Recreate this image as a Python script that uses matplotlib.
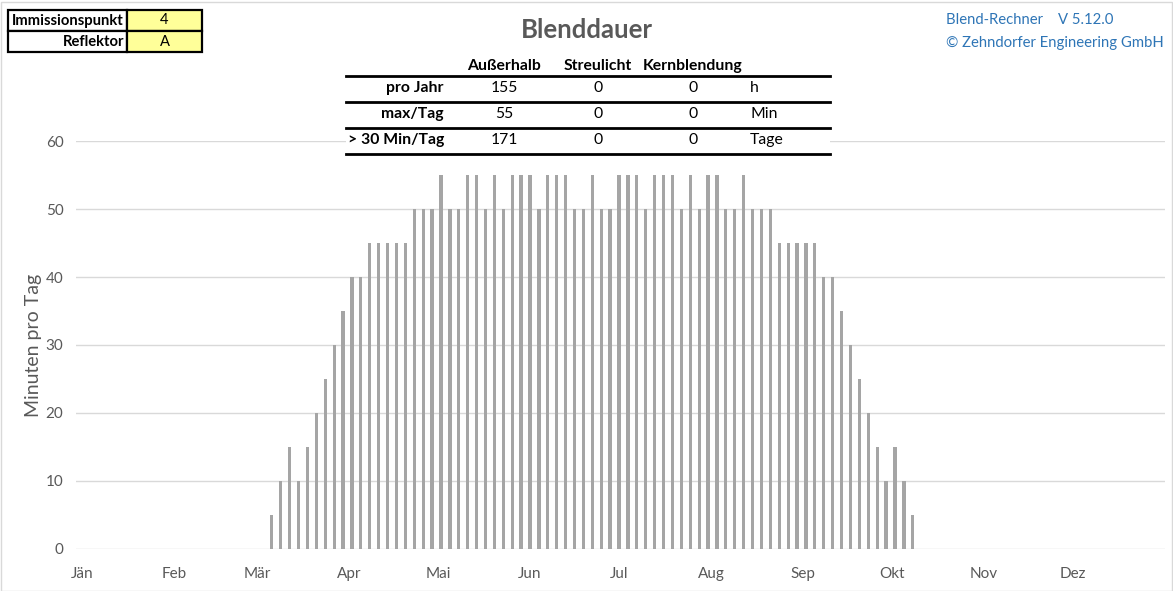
import matplotlib
matplotlib.use("Agg")
import matplotlib.pyplot as plt
from matplotlib.patches import Rectangle
from matplotlib.lines import Line2D
import pandas as pd

# ---------------- data ----------------
year = 2023
bar_dates = [
    "03-06", "03-09", "03-12", "03-15", "03-18", "03-21", "03-24", "03-27", "03-30",
    "04-02", "04-05", "04-08", "04-11", "04-14", "04-17", "04-20", "04-23", "04-26", "04-29",
    "05-02", "05-05", "05-08", "05-11", "05-14", "05-17", "05-20", "05-23", "05-26", "05-29",
    "06-01", "06-04", "06-07", "06-10", "06-13", "06-16", "06-19", "06-22", "06-25", "06-28",
    "07-01", "07-04", "07-07", "07-10", "07-13", "07-16", "07-19", "07-22", "07-25", "07-28", "07-31",
    "08-03", "08-06", "08-09", "08-12", "08-15", "08-18", "08-21", "08-24", "08-27", "08-30",
    "09-02", "09-05", "09-08", "09-11", "09-14", "09-17", "09-20", "09-23", "09-26", "09-29",
    "10-02", "10-05", "10-08",
]
minutes = [
    5, 10, 15, 10, 15, 20, 25, 30, 35, 40, 40, 45, 45, 45, 45, 45, 50, 50, 50, 55, 50, 50,
    55, 55, 50, 55, 50, 55, 55, 55, 50, 55, 55, 55, 50, 50, 55, 50, 50, 55,
    55, 55, 50, 55, 55, 55, 50, 55, 50, 55, 55, 50, 50, 55, 50, 50, 50,
    45, 45, 45, 45, 45, 40, 40, 35, 30, 25, 20, 15, 10, 15, 10, 5,
]
month_labels = ["Jän", "Feb", "Mär", "Apr", "Mai", "Jun", "Jul", "Aug", "Sep", "Okt", "Nov", "Dez"]
y_ticks = [0, 10, 20, 30, 40, 50, 60]

title = "Blenddauer"
ylabel = "Minuten pro Tag"
info_labels = ["Immissionspunkt", "Reflektor"]
info_values = ["4", "A"]
credit_lines = ["Blend-Rechner    V 5.12.0", "© Zehndorfer Engineering GmbH"]

table_cols = ["Außerhalb", "Streulicht", "Kernblendung"]
table_rows = ["pro Jahr", "max/Tag", "> 30 Min/Tag"]
table_aussen = ["155", "55", "171"]
table_streu = ["0", "0", "0"]
table_kern = ["0", "0", "0"]
table_units = ["h", "Min", "Tage"]

# ---------------- figure ----------------
W, H = 1173, 591
plt.rcParams["font.family"] = ["Lato", "DejaVu Sans"]
fig = plt.figure(figsize=(W / 100, H / 100), dpi=100)
fig.patch.set_facecolor("white")

def fx(px):
    return px / W

def fy(py):
    return 1 - py / H

GRAY_TXT = "#595959"

# chart border
fig.patches.append(Rectangle((fx(0.5), fy(590.5)), fx(1171.5), 589 / H, transform=fig.transFigure,
                             fill=False, edgecolor="#D9D9D9", linewidth=1.0))

ax_left, ax_right, ax_top, ax_bottom = 76, 1165, 141, 549
ax = fig.add_axes([fx(ax_left), fy(ax_bottom), fx(ax_right - ax_left), (ax_bottom - ax_top) / H])

dates = pd.to_datetime([f"{year}-{d}" for d in bar_dates])
ax.bar(dates, minutes, width=1.1, color="#A5A5A5", zorder=3)

ax.set_ylim(0, 60)
ax.set_yticks(y_ticks)
ax.set_xlim(pd.Timestamp(f"{year-1}-12-30"), pd.Timestamp(f"{year+1}-01-01"))
month_starts = pd.date_range(f"{year}-01-01", periods=12, freq="MS")
ax.set_xticks(month_starts)
ax.set_xticklabels(month_labels)
ax.grid(axis="y", color="#D9D9D9", linewidth=1.0, zorder=0)
ax.set_axisbelow(True)
for s in ax.spines.values():
    s.set_visible(False)
ax.tick_params(axis="both", length=0, colors=GRAY_TXT, labelsize=11)
ax.tick_params(axis="x", pad=13)
ax.tick_params(axis="y", pad=9)
ax.set_ylabel(ylabel, color=GRAY_TXT, fontsize=14)
ax.yaxis.set_label_coords((42 - ax_left) / (ax_right - ax_left), 0.5)

# title
fig.text(fx(587), fy(30), title, ha="center", va="center", fontsize=18.5, fontweight="bold", color=GRAY_TXT)

# credits
fig.text(fx(946), fy(20), credit_lines[0], ha="left", va="center", fontsize=10.7, color="#2E75B6")
fig.text(fx(946), fy(43), credit_lines[1], ha="left", va="center", fontsize=10.7, color="#2E75B6")

# info table top-left
rows_y = [(10, 31), (31, 52)]
for (y0, y1), lab, val in zip(rows_y, info_labels, info_values):
    fig.patches.append(Rectangle((fx(8), fy(y1)), fx(127 - 8), (y1 - y0) / H, transform=fig.transFigure,
                                 facecolor="white", edgecolor="black", linewidth=1.6, zorder=5))
    fig.patches.append(Rectangle((fx(127), fy(y1)), fx(202 - 127), (y1 - y0) / H, transform=fig.transFigure,
                                 facecolor="#FFFF99", edgecolor="black", linewidth=1.6, zorder=5))
    yc = (y0 + y1) / 2
    fig.text(fx(124), fy(yc), lab, ha="right", va="center", fontsize=10.6, fontweight="bold",
             color="black", zorder=6)
    fig.text(fx(164.5), fy(yc), val, ha="center", va="center", fontsize=10.6, color="black", zorder=6)

# center summary table
fig.patches.append(Rectangle((fx(346), fy(156)), fx(830 - 346), (156 - 55) / H, transform=fig.transFigure,
                             facecolor="white", edgecolor="none", zorder=4))
col_x = [504, 598, 693]
unit_x = 750
row_y = [88, 114, 140]
header_y = 66
for cx, name in zip(col_x, table_cols):
    fig.text(fx(cx), fy(header_y), name, ha="center", va="center", fontsize=11.3, fontweight="bold",
             color="black", zorder=6)
for ly in [76, 102, 128, 154]:
    fig.lines.append(Line2D([fx(346), fx(830)], [fy(ly), fy(ly)], transform=fig.transFigure,
                            color="black", linewidth=2.0, zorder=6))
for i, ry in enumerate(row_y):
    fig.text(fx(444), fy(ry), table_rows[i], ha="right", va="center", fontsize=11.3, fontweight="bold",
             color="black", zorder=6)
    for cx, col in zip(col_x, [table_aussen, table_streu, table_kern]):
        fig.text(fx(cx), fy(ry), col[i], ha="center", va="center", fontsize=11.3, color="black", zorder=6)
    fig.text(fx(unit_x), fy(ry), table_units[i], ha="left", va="center", fontsize=11.3, color="black", zorder=6)

fig.savefig("out.png", dpi=100, facecolor="white")
